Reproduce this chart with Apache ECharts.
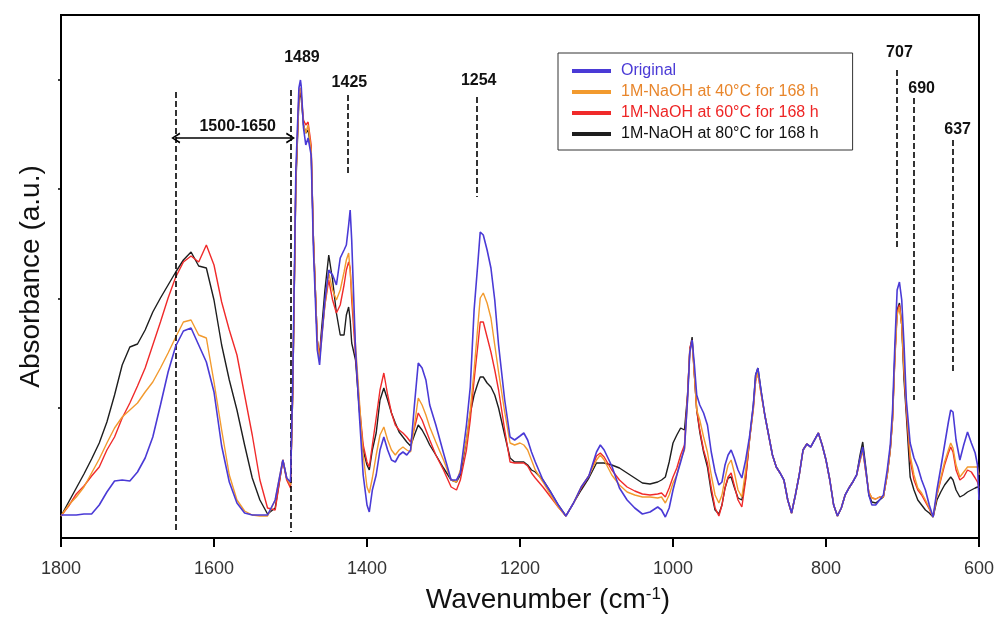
<!DOCTYPE html>
<html><head><meta charset="utf-8">
<script src="https://cdn.jsdelivr.net/npm/echarts@6/dist/echarts.min.js"></script>
<style>html,body{margin:0;padding:0;background:#fff}#c{width:994px;height:618px}</style>
</head><body><div id="c"></div>
<script>
// Wavenumber grid (cm-1), shared by all spectra
const wavenumbers = [
1800,1790,1780,1770,1760,1750,1740,1730,1720,1710,1700,1690,1680,1670,1660,1650,1640,1630,1620,1610,1600,1590,1580,1570,1560,1550,1540,1530,1520,1510,1505,
1500,1497,1493,1489,1487,1486,1483,1480,1477,1473,1470,1465,1462,1460,1455,1450,1445,1440,1435,1430,1427,1424,1422,1420,1415,1410,1405,
1400,1397,1393,1388,1383,1378,1373,1368,1363,1358,1353,1348,1343,1338,1333,1328,1323,1318,1310,1300,1290,1283,1278,1270,1265,1260,1255,1252,1248,1243,1238,1233,1228,1220,1213,1207,1200,1195,1190,1185,
1180,1170,1160,1150,1140,1130,1120,1110,1100,1095,1090,
1080,1070,1060,1050,1040,1030,1020,1015,
1010,1005,1000,995,990,985,981,978,975,972,969,965,960,955,950,945,940,936,932,928,924,920,915,910,905,900,
895,892,889,885,880,875,870,865,860,855,850,845,840,835,830,825,820,815,810,805,800,795,790,785,780,775,770,765,760,756,
752,748,744,740,735,730,725,720,716,713,710,707,704,701,698,695,690,685,680,675,670,665,660,655,650,645,640,637,634,630,625,620,615,610,605,602,600
];
// Absorbance (arbitrary units)
const original = [
2,2,2,3,3,12,25,36,37,36,45,59,80,112,145,171,186,189,172,155,125,71,35,14,4,2,2,2,17,57,39,
35,137,347,429,437,431,389,372,379,362,267,167,152,172,217,247,242,232,259,267,272,292,307,277,167,102,42,
12,5,27,42,67,80,67,57,55,62,65,62,67,112,154,149,137,112,92,64,37,37,44,92,130,207,255,285,282,267,249,217,172,117,80,77,81,84,77,65,
55,37,25,12,1,14,30,41,65,72,67,
51,29,17,9,3,5,10,7,
0,9,27,42,55,69,117,165,177,152,122,112,104,92,65,45,32,35,52,62,67,59,47,39,57,80,
112,142,149,127,102,82,62,50,44,37,17,4,22,42,67,73,70,77,84,72,57,37,12,1,9,22,29,35,42,57,
70,47,22,12,12,17,22,47,72,107,172,227,235,217,172,117,74,59,50,37,27,12,0,27,49,72,95,107,105,77,57,72,85,74,64,52,17
];
const naoh40 = [
1,12,20,30,44,58,74,89,100,107,114,125,135,149,164,180,195,197,182,179,135,87,42,17,6,2,1,1,17,57,39,
32,127,337,422,429,424,392,384,392,367,277,177,157,172,212,244,227,217,227,245,257,264,262,227,172,117,62,
30,24,39,62,82,90,77,67,62,67,70,67,65,92,119,112,102,90,75,57,37,35,47,77,107,147,192,219,224,214,199,172,145,105,74,72,74,72,67,57,
47,35,22,10,1,14,30,41,57,62,57,
42,32,25,22,20,20,19,20,
14,22,34,42,57,67,117,167,174,142,107,97,80,65,42,22,14,22,39,52,57,45,27,20,47,77,
108,136,144,124,102,82,62,50,44,37,17,4,22,42,67,73,70,77,84,72,57,37,12,1,9,22,29,35,42,55,
67,45,25,19,18,20,20,42,67,97,157,202,210,192,147,112,62,42,29,24,17,9,0,22,39,55,67,74,69,52,40,45,50,50,50,50,42
];
const naoh60 = [
1,11,23,31,41,50,67,80,99,114,131,149,172,195,219,240,255,261,255,272,252,215,187,162,122,82,37,9,7,57,37,
29,127,337,422,429,422,397,392,395,372,277,177,160,177,212,237,217,204,212,232,247,255,249,217,162,112,72,
55,50,72,99,127,144,122,104,92,87,84,80,75,89,104,97,87,77,62,47,30,27,37,67,97,137,172,195,195,180,165,147,127,87,55,54,54,54,51,44,
39,30,20,10,1,14,29,41,61,64,60,
47,37,30,26,23,22,23,24,
20,29,40,49,62,72,122,169,177,142,107,87,67,54,29,9,1,12,29,40,44,32,17,10,37,77,
108,136,144,124,102,82,62,50,44,37,17,4,22,42,67,73,70,77,84,72,57,37,12,1,9,22,29,35,42,55,
67,45,25,19,18,20,20,42,67,97,159,205,212,192,145,107,57,37,27,22,15,8,0,22,37,52,64,70,65,47,37,40,47,45,39,35,29
];
const naoh80 = [
1,15,29,43,58,74,95,122,152,170,173,187,205,219,232,245,257,265,251,249,217,172,137,107,72,39,17,3,9,57,39,
32,127,332,417,425,419,392,384,387,367,277,177,160,182,227,262,237,204,182,182,202,210,197,174,157,107,67,
52,47,67,84,117,129,117,104,94,85,80,75,71,82,92,87,80,72,62,49,37,35,42,77,104,122,134,140,140,134,130,122,109,82,59,55,55,55,52,47,
45,37,25,12,1,14,27,39,54,54,54,
52,49,44,39,34,33,35,37,
40,55,74,82,89,87,122,167,180,142,107,85,65,50,25,7,3,12,29,39,40,30,19,17,39,77,
112,142,149,127,102,82,62,50,44,37,17,4,22,42,67,73,70,77,84,72,57,37,12,1,9,22,29,35,42,60,
75,50,22,15,14,17,20,42,67,99,162,207,214,192,137,102,40,27,17,12,7,4,0,17,25,32,37,40,37,27,20,22,25,27,29,30,30
];
const seriesNames = ['Original','1M-NaOH at 40°C for 168 h','1M-NaOH at 60°C for 168 h','1M-NaOH at 80°C for 168 h'];
const seriesColors = ['#4a3ad6','#f29a2e','#f02a2a','#1e1e1e'];
const legendTextColors = ['#4a3ad6','#e8862c','#ee2525','#111111'];
const xTicks = [1800,1600,1400,1200,1000,800,600];
const yTicks = [109,218,328,437];
// annotations
const peakLabels = ['1489','1425','1254','707','690','637','1500-1650'];
const peakLabelX = [1485,1423,1254,704,675,628,1569];
const peakLabelY = [459,434,436,464,428,387,390];
const dashX = [1650,1500,1425,1256,707,685,634];
const dashTop = [425,427,422,420,447,419,377];
const dashBottom = [-13,-15,342,320,269,117,144];
const rangeArrowX = [1650,1500];
const rangeArrowY = 379;

const FONT = 'Liberation Sans, Arial, sans-serif';
const allSeries = [original, naoh40, naoh60, naoh80];
const chart = echarts.init(document.getElementById('c'), null, {renderer:'canvas'});
const chev = 'path://M0,10L5,0L10,10L8.4,10.8L5,3.2L1.6,10.8Z';

const lineSeries = allSeries.map((vals, k) => ({
  name: seriesNames[k], type: 'line', showSymbol: false, symbol: 'none',
  data: wavenumbers.map((w, i) => [w, vals[i]]),
  lineStyle: {width: k === 0 ? 1.6 : 1.4, color: seriesColors[k]},
  itemStyle: {color: seriesColors[k]},
  z: 5 - k, animation: false
})).reverse();

chart.setOption({
  animation: false,
  backgroundColor: '#fff',
  grid: {left: 61, right: 15, top: 15, bottom: 80, show: true, borderColor: '#000', borderWidth: 2, containLabel: false, outerBoundsMode: 'none'},
  legend: {
    orient: 'vertical', left: 558, top: 53,
    padding: [10, 34, 8, 14],
    borderColor: '#333', borderWidth: 1, backgroundColor: '#fff',
    icon: 'rect', itemWidth: 39, itemHeight: 4, itemGap: 5,
    textStyle: {fontSize: 16, fontFamily: FONT, lineHeight: 16, padding: [0,0,0,5]},
    data: seriesNames.map((n, k) => ({name: n, textStyle: {color: legendTextColors[k]}}))
  },
  xAxis: {
    type: 'value', inverse: true, min: 600, max: 1800, interval: 200,
    name: 'Wavenumber (cm{sup|-1})', nameLocation: 'middle', nameGap: 48,
    nameTextStyle: {fontSize: 28, color: '#111', fontFamily: FONT, padding: [0,0,0,56],
      rich: {sup: {fontSize: 17, fontFamily: FONT, color: '#111', verticalAlign: 'top', padding: [0,0,12,0]}}},
    axisLine: {onZero: false, lineStyle: {color: '#000', width: 2}},
    axisTick: {inside: false, length: 9, lineStyle: {color: '#000', width: 2}},
    axisLabel: {fontSize: 18, color: '#333', fontFamily: FONT, margin: 22, formatter: v => String(v)},
    splitLine: {show: false}
  },
  yAxis: {
    type: 'value', min: -21, max: 502,
    name: 'Absorbance (a.u.)', nameLocation: 'middle', nameGap: 16, nameRotate: 90,
    nameTextStyle: {fontSize: 28, color: '#111', fontFamily: FONT},
    axisLine: {show: true, onZero: false, lineStyle: {color: '#000', width: 2}},
    axisTick: {show: true, length: 3, lineStyle: {color: '#000', width: 1.5}, customValues: yTicks},
    axisLabel: {show: false},
    splitLine: {show: false}
  },
  series: lineSeries.concat([
    {
      type: 'line', data: [], silent: true, z: 8,
      markLine: {
        silent: true, animation: false, symbol: ['none','none'],
        lineStyle: {color: '#000', type: [6,3], width: 1.6},
        label: {show: false},
        data: dashX.map((x, i) => [{coord: [x, dashTop[i]]}, {coord: [x, dashBottom[i]]}])
      },
      markPoint: {
        silent: true, animation: false, symbol: 'circle', symbolSize: 1,
        itemStyle: {color: 'rgba(0,0,0,0)'},
        label: {show: true, position: 'inside', color: '#111', fontWeight: 'bold', fontSize: 16, fontFamily: FONT,
          formatter: p => p.name},
        data: peakLabels.map((t, i) => ({name: t, coord: [peakLabelX[i], peakLabelY[i]]}))
      }
    },
    {
      type: 'line', data: [], silent: true, z: 8,
      markLine: {
        silent: true, animation: false, symbol: [chev, chev], symbolSize: [11, 9],
        lineStyle: {color: '#000', type: 'solid', width: 1.6},
        itemStyle: {color: '#000'},
        label: {show: false},
        data: [[{coord: [rangeArrowX[0], rangeArrowY]}, {coord: [rangeArrowX[1], rangeArrowY]}]]
      }
    }
  ])
});
</script>
</body></html>
